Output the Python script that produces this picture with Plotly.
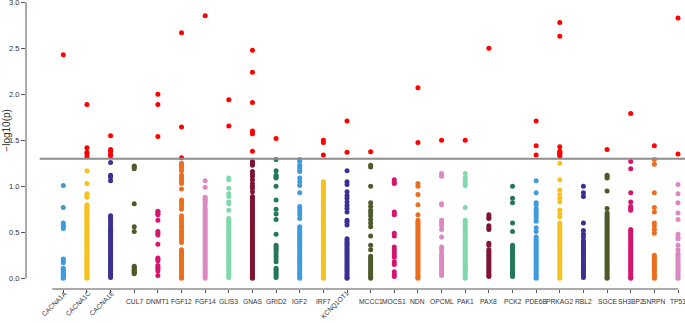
import plotly.graph_objects as go

genes = ["CACNA1A", "CACNA1C", "CACNA1E", "CUL7", "DNMT1", "FGF12", "FGF14", "GLIS3", "GNAS",
         "GRID2", "IGF2", "IRF7", "KCNQ1OT1", "MCCC1", "MOCS1", "NDN", "OPCML", "PAK1", "PAX8",
         "PCK2", "PDE6B", "PRKAG2", "RBL2", "SGCE", "SH3BP2", "SNRPN", "TP53"]
rotated_labels = ["CACNA1A", "CACNA1C", "CACNA1E", "KCNQ1OT1"]

CACNA1A = [2.43, 1.01, 0.77, 0.60, 0.58, 0.56, 0.54, 0.21, 0.19, 0.17, 0.11, 0.10, 0.09, 0.08, 0.06,
           0.05, 0.04, 0.03, 0.02, 0.01, 0.00]
CACNA1C = [1.89, 1.42, 1.37, 1.35, 1.32, 1.17, 1.03, 0.92, 0.90, 0.88, 0.80, 0.79, 0.77, 0.76, 0.74,
           0.73, 0.71, 0.69, 0.68, 0.66, 0.64, 0.63, 0.61, 0.59, 0.58, 0.56, 0.54, 0.53, 0.51, 0.49,
           0.48, 0.46, 0.44, 0.43, 0.41, 0.39, 0.38, 0.36, 0.34, 0.33, 0.31, 0.29, 0.28, 0.26, 0.24,
           0.23, 0.21, 0.19, 0.18, 0.16, 0.14, 0.13, 0.11, 0.09, 0.08, 0.06, 0.04, 0.03, 0.01, 0.00]
CACNA1E = [1.55, 1.40, 1.38, 1.35, 1.33, 1.26, 1.12, 1.10, 1.06, 0.68, 0.66, 0.64, 0.62, 0.59, 0.56,
           0.54, 0.53, 0.51, 0.49, 0.47, 0.45, 0.43, 0.41, 0.39, 0.37, 0.35, 0.33, 0.31, 0.29, 0.27,
           0.25, 0.23, 0.21, 0.19, 0.17, 0.15, 0.13, 0.11, 0.09, 0.07, 0.05, 0.03, 0.01]
CUL7 = [1.22, 1.21, 1.19, 0.81, 0.56, 0.51, 0.13, 0.12, 0.10, 0.09, 0.08, 0.07, 0.06, 0.05]
DNMT1 = [2.00, 1.89, 1.54, 0.73, 0.72, 0.70, 0.69, 0.63, 0.51, 0.49, 0.47, 0.37, 0.22, 0.21, 0.19,
         0.14, 0.12, 0.10, 0.08, 0.03]
FGF12 = [2.67, 1.645, 1.31, 1.25, 1.23, 1.22, 1.20, 1.17, 1.12, 1.10, 1.07, 1.05, 1.03, 0.97, 0.85,
         0.83, 0.81, 0.78, 0.75, 0.68, 0.66, 0.63, 0.60, 0.57, 0.55, 0.52, 0.50, 0.47, 0.44, 0.42,
         0.39, 0.31, 0.29, 0.27, 0.25, 0.23, 0.21, 0.19, 0.17, 0.15, 0.13, 0.11, 0.09, 0.07, 0.05,
         0.03, 0.01, 0.00]
FGF14 = [2.855, 1.06, 0.99, 0.88, 0.86, 0.84, 0.82, 0.79, 0.76, 0.74, 0.72, 0.70, 0.68, 0.66, 0.64,
         0.62, 0.60, 0.58, 0.56, 0.54, 0.52, 0.50, 0.48, 0.46, 0.44, 0.42, 0.40, 0.38, 0.36, 0.34,
         0.32, 0.30, 0.28, 0.26, 0.24, 0.22, 0.20, 0.18, 0.16, 0.14, 0.12, 0.10, 0.08, 0.06, 0.04,
         0.02, 0.00]
GLIS3 = [1.94, 1.656, 1.09, 1.07, 0.98, 0.92, 0.89, 0.83, 0.81, 0.74, 0.65, 0.63, 0.61, 0.59, 0.57,
         0.55, 0.53, 0.51, 0.49, 0.47, 0.45, 0.43, 0.41, 0.39, 0.37, 0.35, 0.33, 0.31, 0.29, 0.27,
         0.25, 0.23, 0.21, 0.19, 0.17, 0.15, 0.13, 0.11, 0.09, 0.07, 0.05, 0.03, 0.01]
GNAS = [2.48, 2.24, 1.91, 1.60, 1.58, 1.57, 1.38, 1.27, 1.25, 1.23, 1.16, 1.13, 1.11, 1.07, 1.03,
        1.00, 0.98, 0.94, 0.89, 0.87, 0.85, 0.83, 0.81, 0.79, 0.77, 0.75, 0.73, 0.71, 0.69, 0.67,
        0.65, 0.63, 0.61, 0.59, 0.57, 0.55, 0.53, 0.51, 0.49, 0.47, 0.45, 0.43, 0.41, 0.39, 0.37,
        0.35, 0.33, 0.31, 0.29, 0.27, 0.25, 0.23, 0.21, 0.19, 0.17, 0.15, 0.13, 0.11, 0.09, 0.07,
        0.05, 0.03, 0.01, 0.00]
GRID2 = [1.52, 1.29, 1.17, 1.12, 1.10, 1.09, 1.00, 0.85, 0.75, 0.70, 0.64, 0.48, 0.36, 0.34, 0.32,
         0.30, 0.27, 0.24, 0.21, 0.18, 0.11, 0.09, 0.07, 0.05, 0.03, 0.01]
IGF2 = [1.29, 1.27, 1.23, 1.21, 1.18, 1.16, 1.09, 1.05, 1.01, 0.93, 0.78, 0.75, 0.72, 0.69, 0.65,
        0.56, 0.54, 0.52, 0.50, 0.48, 0.46, 0.44, 0.42, 0.40, 0.38, 0.36, 0.34, 0.32, 0.30, 0.28,
        0.26, 0.24, 0.22, 0.20, 0.18, 0.16, 0.14, 0.12, 0.10, 0.08, 0.06, 0.04, 0.02, 0.00]
IRF7 = [1.50, 1.475, 1.34, 1.05, 1.03, 1.01, 0.99, 0.97, 0.95, 0.93, 0.91, 0.89, 0.87, 0.85, 0.83,
        0.81, 0.79, 0.77, 0.75, 0.73, 0.71, 0.69, 0.67, 0.65, 0.63, 0.61, 0.59, 0.57, 0.55, 0.53,
        0.51, 0.49, 0.47, 0.45, 0.43, 0.41, 0.39, 0.37, 0.35, 0.33, 0.31, 0.29, 0.27, 0.25, 0.23,
        0.21, 0.19, 0.17, 0.15, 0.13, 0.11, 0.09, 0.07, 0.05, 0.03, 0.01, 0.00]
KCNQ1OT1 = [1.71, 1.37, 1.17, 1.05, 1.02, 0.94, 0.90, 0.87, 0.83, 0.79, 0.76, 0.72, 0.63, 0.61, 0.58,
            0.43, 0.41, 0.39, 0.37, 0.35, 0.33, 0.31, 0.29, 0.27, 0.25, 0.23, 0.21, 0.19, 0.17, 0.15,
            0.13, 0.11, 0.09, 0.07, 0.05, 0.03, 0.01, 0.00]
MCCC1 = [1.375, 1.23, 1.21, 1.00, 0.82, 0.78, 0.74, 0.71, 0.68, 0.64, 0.60, 0.56, 0.46, 0.36, 0.31,
         0.24, 0.22, 0.20, 0.18, 0.16, 0.14, 0.12, 0.10, 0.08, 0.06, 0.04, 0.02, 0.00]
MOCS1 = [1.07, 1.04, 1.03, 0.72, 0.70, 0.69, 0.49, 0.46, 0.34, 0.31, 0.28, 0.25, 0.23, 0.18, 0.15,
         0.07, 0.04, 0.02]
NDN = [2.07, 1.475, 1.03, 1.00, 0.91, 0.80, 0.69, 0.63, 0.61, 0.59, 0.57, 0.55, 0.53, 0.51, 0.49,
       0.47, 0.45, 0.43, 0.41, 0.39, 0.37, 0.35, 0.33, 0.31, 0.29, 0.27, 0.25, 0.23, 0.21, 0.19,
       0.17, 0.15, 0.13, 0.11, 0.09, 0.07, 0.05, 0.03, 0.01, 0.00]
OPCML = [1.50, 1.14, 1.12, 1.11, 0.81, 0.80, 0.63, 0.60, 0.57, 0.53, 0.45, 0.34, 0.31, 0.27, 0.25,
         0.23, 0.21, 0.19, 0.17, 0.15, 0.13, 0.11, 0.09, 0.07, 0.05, 0.03]
PAK1 = [1.50, 1.14, 1.09, 1.06, 1.03, 1.01, 0.77, 0.63, 0.61, 0.59, 0.57, 0.55, 0.53, 0.51, 0.49,
        0.47, 0.45, 0.43, 0.41, 0.39, 0.37, 0.35, 0.33, 0.31, 0.29, 0.27, 0.25, 0.23, 0.21, 0.19,
        0.17, 0.15, 0.13, 0.11, 0.09, 0.07, 0.05, 0.03, 0.01, 0.00]
PAX8 = [2.50, 0.69, 0.66, 0.65, 0.57, 0.55, 0.53, 0.38, 0.36, 0.31, 0.29, 0.27, 0.25, 0.23, 0.21,
        0.19, 0.17, 0.15, 0.13, 0.11, 0.09, 0.07, 0.05, 0.03, 0.02]
PCK2 = [1.00, 0.87, 0.82, 0.60, 0.51, 0.36, 0.34, 0.32, 0.30, 0.28, 0.26, 0.24, 0.22, 0.20, 0.18,
        0.16, 0.14, 0.12, 0.10, 0.08, 0.06, 0.04, 0.02]
PDE6B = [1.71, 1.44, 1.34, 1.06, 0.93, 0.82, 0.80, 0.76, 0.73, 0.70, 0.68, 0.65, 0.62, 0.55, 0.51,
         0.45, 0.43, 0.41, 0.39, 0.37, 0.35, 0.33, 0.31, 0.29, 0.27, 0.25, 0.23, 0.21, 0.19, 0.17,
         0.15, 0.13, 0.11, 0.09, 0.07, 0.05, 0.03, 0.01, 0.00]
PRKAG2 = [2.78, 2.63, 1.43, 1.38, 1.37, 1.36, 1.34, 1.33, 1.25, 1.07, 0.96, 0.91, 0.87, 0.83, 0.74,
          0.70, 0.67, 0.60, 0.58, 0.56, 0.54, 0.52, 0.50, 0.48, 0.46, 0.44, 0.42, 0.40, 0.38, 0.36,
          0.34, 0.32, 0.30, 0.28, 0.26, 0.24, 0.22, 0.20, 0.18, 0.16, 0.14, 0.12, 0.10, 0.08, 0.06,
          0.04, 0.02, 0.00]
RBL2 = [1.00, 0.93, 0.89, 0.60, 0.52, 0.48, 0.45, 0.41, 0.39, 0.37, 0.35, 0.33, 0.31, 0.29, 0.27,
        0.25, 0.23, 0.21, 0.19, 0.17, 0.15, 0.13, 0.11, 0.09, 0.07, 0.05, 0.03, 0.01]
SGCE = [1.40, 1.12, 1.10, 1.09, 0.95, 0.76, 0.71, 0.69, 0.67, 0.65, 0.63, 0.61, 0.59, 0.57, 0.55,
        0.53, 0.51, 0.49, 0.47, 0.45, 0.43, 0.41, 0.39, 0.37, 0.35, 0.33, 0.31, 0.29, 0.27, 0.25,
        0.23, 0.21, 0.19, 0.17, 0.15, 0.13, 0.11, 0.09, 0.07, 0.05, 0.03, 0.01, 0.00]
SH3BP2 = [1.79, 1.27, 1.19, 0.93, 0.83, 0.78, 0.76, 0.74, 0.53, 0.51, 0.49, 0.47, 0.45, 0.43, 0.41,
          0.39, 0.37, 0.35, 0.33, 0.31, 0.29, 0.27, 0.25, 0.23, 0.21, 0.19, 0.17, 0.15, 0.13, 0.11,
          0.09, 0.07, 0.05, 0.03, 0.01, 0.00]
SNRPN = [1.44, 1.29, 1.24, 0.93, 0.77, 0.72, 0.60, 0.57, 0.53, 0.49, 0.25, 0.23, 0.21, 0.19, 0.17,
         0.15, 0.13, 0.11, 0.09, 0.07, 0.05, 0.03, 0.01, 0.00]
TP53 = [2.83, 1.35, 1.02, 0.92, 0.82, 0.71, 0.64, 0.48, 0.45, 0.43, 0.36, 0.31, 0.27, 0.25, 0.23,
        0.21, 0.19, 0.17, 0.15, 0.13, 0.11, 0.09, 0.07, 0.05, 0.03, 0.01, 0.00]

values = [CACNA1A, CACNA1C, CACNA1E, CUL7, DNMT1, FGF12, FGF14, GLIS3, GNAS, GRID2, IGF2, IRF7,
          KCNQ1OT1, MCCC1, MOCS1, NDN, OPCML, PAK1, PAX8, PCK2, PDE6B, PRKAG2, RBL2, SGCE, SH3BP2,
          SNRPN, TP53]
threshold = 1.3

palette = ["#3f9bdc", "#f8c21e", "#3c3093", "#4e5a2b", "#d6156f", "#eb6e1e", "#dc88c3", "#82d8ad",
           "#7d1533", "#247858"]
sig_color = "#ff0000"

fig = go.Figure()
for i, (g, vals) in enumerate(zip(genes, values)):
    xpos = i + 1
    cols = [sig_color if v > threshold else palette[i % len(palette)] for v in vals]
    fig.add_trace(go.Scatter(x=[xpos] * len(vals), y=vals, mode="markers", cliponaxis=False,
                             marker=dict(size=5, color=cols, line=dict(width=0)),
                             showlegend=False, hoverinfo="x+y"))

x0, x1 = -0.578, 27.296
axis_col = "#555555"
label_font = dict(size=6.7, color="#333333", family="Liberation Sans")
shapes = [
    dict(type="line", xref="x", yref="y", x0=0, x1=x1, y0=threshold, y1=threshold,
         line=dict(color="#8c8c8c", width=2)),
    dict(type="line", xref="paper", yref="y", x0=0, x1=0, y0=0, y1=3,
         line=dict(color=axis_col, width=1)),
    dict(type="line", xref="x", yref="paper", x0=0.53, x1=27, y0=0, y1=0,
         line=dict(color=axis_col, width=1)),
]

annotations = []
for i, g in enumerate(genes):
    xpos = i + 1
    if g in rotated_labels:
        long = g == "KCNQ1OT1"
        annotations.append(dict(x=xpos, y=0, xref="x", yref="paper", text=g, showarrow=False,
                                textangle=-45, xanchor="center", yanchor="middle",
                                xshift=-12 if long else -9, yshift=-16 if long else -14.5,
                                font=label_font))
    else:
        annotations.append(dict(x=xpos, y=0, xref="x", yref="paper", text=g, showarrow=False,
                                xanchor="center", yanchor="middle", yshift=-12.2,
                                font=label_font))

annotations.append(dict(x=0, y=1.61, xref="paper", yref="y", text="−log10(p)", showarrow=False,
                        textangle=-90, xanchor="center", yanchor="middle", xshift=-19.5,
                        font=dict(size=10, color="#333333", family="Liberation Sans")))

fig.update_layout(
    width=685, height=323,
    margin=dict(l=26, r=0, t=0, b=34, autoexpand=False),
    paper_bgcolor="white", plot_bgcolor="white",
    font=dict(family="Liberation Sans", color="#333333"),
    xaxis=dict(range=[x0, x1], tickvals=list(range(1, len(genes) + 1)), showticklabels=False,
               ticks="outside", ticklen=3, tickcolor=axis_col, tickwidth=1, automargin=False,
               showgrid=False, zeroline=False, showline=False),
    yaxis=dict(range=[-0.1163, 3.025], tickvals=[0, 0.5, 1.0, 1.5, 2.0, 2.5, 3.0],
               ticktext=["0.0", "0.5", "1.0", "1.5", "2.0", "2.5", "3.0"],
               ticks="outside", ticklen=4, tickcolor=axis_col, tickwidth=1, automargin=False,
               tickfont=dict(size=7.5, color="#333333"), ticklabeloverflow="allow",
               showgrid=False, zeroline=False, showline=False),
    shapes=shapes, annotations=annotations,
)

fig.write_html("out.html", config={"displayModeBar": False},
               post_script="document.body.style.margin='0';")
